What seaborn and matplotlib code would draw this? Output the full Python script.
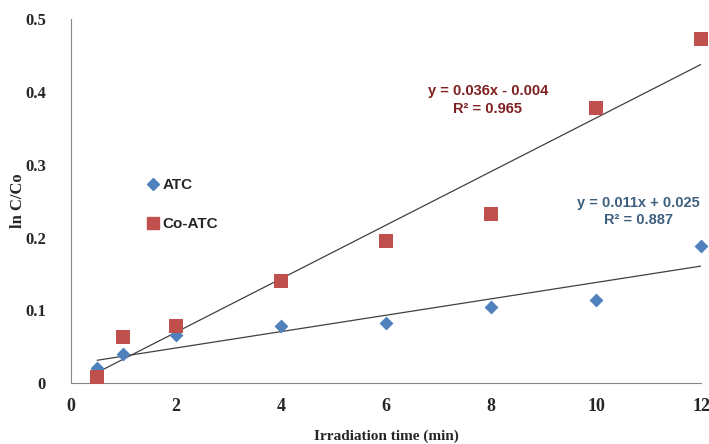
import numpy as np
import pandas as pd
import matplotlib
matplotlib.use("Agg")
import matplotlib.pyplot as plt
import seaborn as sns
from matplotlib.lines import Line2D

time_min = [0.5, 1, 2, 4, 6, 8, 10, 12]
atc = [0.021, 0.040, 0.066, 0.079, 0.083, 0.105, 0.114, 0.188]
co_atc = [0.009, 0.063, 0.079, 0.141, 0.195, 0.233, 0.378, 0.473]
x_ticks = [0, 2, 4, 6, 8, 10, 12]
y_ticks = [0, 0.1, 0.2, 0.3, 0.4, 0.5]
y_tick_labels = ["0", "0.1", "0.2", "0.3", "0.4", "0.5"]

sns.set_style("white")
plt.rcParams['font.family'] = ['Liberation Serif', 'DejaVu Serif']

df = pd.DataFrame({"t": time_min, "ATC": atc, "Co-ATC": co_atc})

fig = plt.figure(figsize=(7.09, 4.44), dpi=100)
ax = fig.add_axes([0.100, 0.137, 0.889, 0.820])

blue = "#4F81BD"
red = "#C0504D"

for col, color, marker, ms in [("ATC", blue, "D", 50), ("Co-ATC", red, "s", 110)]:
    sns.regplot(data=df, x="t", y=col, ax=ax, ci=None, truncate=True, marker=marker,
                scatter_kws=dict(color=color, s=ms, linewidths=0, zorder=3, alpha=1, clip_on=False),
                line_kws=dict(color="#404040", lw=0.9, zorder=2))

ax.set_xlim(0, 12)
ax.set_ylim(0, 0.5)
ax.set_xticks(x_ticks)
ax.set_xticklabels([str(v) for v in x_ticks], fontweight="bold", fontsize=13)
ax.set_yticks(y_ticks)
ax.set_yticklabels(y_tick_labels, fontweight="bold", fontsize=12)
ax.tick_params(axis="both", direction="out", length=4, width=0.8, color="#888888")
ax.tick_params(axis="x", pad=7)
ax.tick_params(axis="y", pad=14)
for s in ["top", "right"]:
    ax.spines[s].set_visible(False)
for s in ["left", "bottom"]:
    ax.spines[s].set_color("#888888")
    ax.spines[s].set_linewidth(0.8)

ax.set_xlabel("Irradiation time (min)", fontweight="bold", fontsize=11)
ax.xaxis.set_label_coords(0.5, -0.146)
ax.xaxis.label.set_va("center")
ax.set_ylabel("ln C/Co", fontweight="bold", fontsize=12)
ax.yaxis.set_label_coords(-0.084, 0.5)
ax.yaxis.label.set_va("center")

handles = [Line2D([], [], marker="D", color=blue, ls="", markersize=6),
           Line2D([], [], marker="s", color=red, ls="", markersize=8)]
leg = ax.legend(handles, ["ATC", "Co-ATC"], loc="upper left", bbox_to_anchor=(0.097, 0.60),
                frameon=False, labelspacing=1.6, handletextpad=0.1, handlelength=1.0,
                prop=dict(family="Liberation Sans", weight="bold", size=11))

ax.text(7.94, 0.389, "y = 0.036x - 0.004\nR² = 0.965", color="#7F1F1F", fontsize=10.5,
        fontweight="bold", family="Liberation Sans", ha="center", va="center", linespacing=1.3)
ax.text(10.8, 0.236, "y = 0.011x + 0.025\nR² = 0.887", color="#3F5F7F", fontsize=10.5,
        fontweight="bold", family="Liberation Sans", ha="center", va="center", linespacing=1.3)

fig.savefig("out.png", dpi=100)
